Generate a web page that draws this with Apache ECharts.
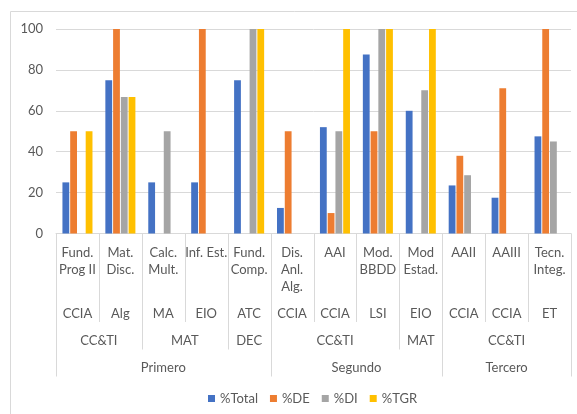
<!DOCTYPE html>
<html>
<head>
<meta charset="utf-8">
<script src="https://cdn.jsdelivr.net/npm/echarts@6/dist/echarts.min.js"></script>
<style>
  html, body { margin: 0; padding: 0; background: #fff; }
  #chart { width: 577px; height: 414px; }
</style>
</head>
<body>
<div id="chart"></div>
<script>
// Category hierarchy: subject -> area -> department -> year
const subjects = ['Fund.\nProg II', 'Mat.\nDisc.', 'Calc.\nMult.', 'Inf. Est.', 'Fund.\nComp.',
                  'Dis.\nAnl.\nAlg.', 'AAI', 'Mod.\nBBDD', 'Mod\nEstad.', 'AAII', 'AAIII', 'Tecn.\nInteg.'];
const areas = ['CCIA', 'Alg', 'MA', 'EIO', 'ATC', 'CCIA', 'CCIA', 'LSI', 'EIO', 'CCIA', 'CCIA', 'ET'];
const depts = ['CC&TI', 'CC&TI', 'MAT', 'MAT', 'DEC', 'CC&TI', 'CC&TI', 'CC&TI', 'MAT', 'CC&TI', 'CC&TI', 'CC&TI'];
const years = ['Primero', 'Primero', 'Primero', 'Primero', 'Primero', 'Segundo', 'Segundo', 'Segundo', 'Segundo',
               'Tercero', 'Tercero', 'Tercero'];

// Series values (percentages)
const seriesNames = ['%Total', '%DE', '%DI', '%TGR'];
const pctTotal = [25, 75, 25, 25, 75, 12.5, 52, 87.5, 60, 23.5, 17.5, 47.5];
const pctDE    = [50, 100, 0, 100, 0, 50, 10, 50, 0, 38, 71, 100];
const pctDI    = [0, 66.7, 50, 0, 100, 0, 50, 100, 70, 28.5, 0, 45];
const pctTGR   = [50, 66.7, 0, 0, 100, 0, 100, 100, 100, 0, 0, 0];

// Value axis ticks
const yTicks = [0, 20, 40, 60, 80, 100];

const colors = ['#4472C4', '#ED7D31', '#A5A5A5', '#FFC000'];
const seriesData = [pctTotal, pctDE, pctDI, pctTGR];
const textColor = '#595959';
const lineColor = '#d9d9d9';
const fontFamily = 'Lato, "Open Sans", sans-serif';

const chart = echarts.init(document.getElementById('chart'), null, { renderer: 'canvas' });

chart.setOption({
  animation: false,
  color: colors,
  textStyle: { fontFamily: fontFamily },
  grid: { left: 56, right: 6, top: 29, bottom: 180.5, containLabel: false },
  legend: {
    data: seriesNames,
    left: 203,
    top: 387,
    icon: 'rect',
    itemWidth: 7,
    itemHeight: 7,
    itemGap: 12,
    textStyle: { color: textColor, fontSize: 13, fontFamily: fontFamily }
  },
  xAxis: {
    type: 'category',
    data: subjects,
    axisLine: { show: true, lineStyle: { color: lineColor, width: 1 } },
    axisTick: { show: false },
    axisLabel: {
      interval: 0,
      margin: 11,
      color: textColor,
      fontSize: 13,
      lineHeight: 17,
      fontFamily: fontFamily,
      verticalAlign: 'top'
    },
    splitLine: { show: false }
  },
  yAxis: {
    type: 'value',
    min: yTicks[0],
    max: yTicks[yTicks.length - 1],
    interval: yTicks[1] - yTicks[0],
    axisLine: { show: false },
    axisTick: { show: false },
    axisLabel: { color: textColor, fontSize: 13, margin: 13, fontFamily: fontFamily },
    splitLine: { lineStyle: { color: lineColor, width: 1 } }
  },
  series: seriesNames.map((name, k) => ({
    name: name,
    type: 'bar',
    data: seriesData[k],
    barCategoryGap: '30%',
    barGap: '14%',
    itemStyle: { color: colors[k] }
  }))
});

// Lower levels of the category axis: area, department and year rows plus divider lines,
// all positioned from the category scale of the x axis.
function buildHierarchy() {
  const n = subjects.length;
  const c0 = chart.convertToPixel({ xAxisIndex: 0 }, 0);
  const c1 = chart.convertToPixel({ xAxisIndex: 0 }, 1);
  const bw = c1 - c0;
  const edge = i => c0 - bw / 2 + i * bw;
  const axisY = chart.convertToPixel({ yAxisIndex: 0 }, 0);

  const rowY = { area: axisY + 80, dept: axisY + 107, year: axisY + 134 };
  const depth = { sub: axisY + 88.5, dept: axisY + 116, year: axisY + 143 };

  const elements = [];
  const textEl = (x, y, str) => ({
    type: 'text',
    x: x, y: y,
    style: {
      text: str, fill: textColor, font: '13px ' + fontFamily,
      textAlign: 'center', textVerticalAlign: 'middle'
    },
    silent: true
  });

  // Area row: one cell per subject
  areas.forEach((a, i) => elements.push(textEl(edge(i) + bw / 2, rowY.area, a)));

  // Runs of consecutive equal keys
  function runs(keyFn) {
    const out = [];
    let start = 0;
    for (let i = 1; i <= n; i++) {
      if (i === n || keyFn(i) !== keyFn(start)) {
        out.push([start, i - 1]);
        start = i;
      }
    }
    return out;
  }
  runs(i => years[i] + '|' + depts[i]).forEach(([s, e]) =>
    elements.push(textEl((edge(s) + edge(e + 1)) / 2, rowY.dept, depts[s])));
  runs(i => years[i]).forEach(([s, e]) =>
    elements.push(textEl((edge(s) + edge(e + 1)) / 2, rowY.year, years[s])));

  // Divider lines between categories
  for (let b = 0; b <= n; b++) {
    let bottom;
    if (b === 0 || b === n || years[b] !== years[b - 1]) bottom = depth.year;
    else if (depts[b] !== depts[b - 1]) bottom = depth.dept;
    else bottom = depth.sub;
    const x = Math.round(edge(b)) + 0.5;
    elements.push({
      type: 'line',
      shape: { x1: x, y1: axisY, x2: x, y2: bottom },
      style: { stroke: lineColor, lineWidth: 1 },
      silent: true
    });
  }

  // Chart area frame
  elements.push({
    type: 'rect',
    shape: { x: 10.5, y: 11.5, width: 700, height: 600 },
    style: { fill: 'none', stroke: lineColor, lineWidth: 1 },
    silent: true,
    z: -1
  });

  chart.setOption({ graphic: { elements: elements } });
}
buildHierarchy();
</script>
</body>
</html>
